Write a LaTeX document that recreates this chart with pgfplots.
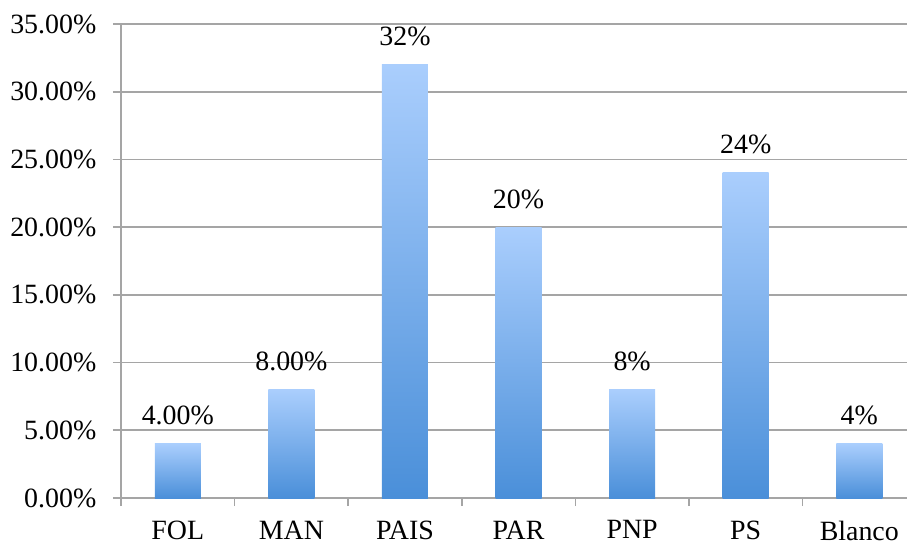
\documentclass[border=0pt]{standalone}
\usepackage{pgfplots}
\pgfplotsset{compat=1.18}
\usepackage{fontspec}
\setmainfont{Liberation Serif}
\definecolor{gridgray}{RGB}{165,165,165}
\definecolor{bartop}{RGB}{170,206,253}
\definecolor{barbot}{RGB}{74,143,217}
\pgfplotsset{mybar/.style={ybar, bar width=23bp, bar shift=0pt, draw=none, top color=bartop, bottom color=barbot}}
\begin{document}
\fontsize{14}{16}\selectfont
\begin{tikzpicture}
\useasboundingbox (-60.5bp,-23.5bp) rectangle (393bp,249bp);
\begin{axis}[
  at={(0,0)}, anchor=south west,
  scale only axis, width=393bp, height=237bp,
  xmin=-0.5, xmax=6.42, ymin=0, ymax=35,
  axis x line*=bottom, axis y line*=left,
  axis line style={-, draw=gridgray, line width=0.8bp},
  ytick={0,5,...,35},
  ymajorgrids, grid style={gridgray, line width=0.8bp},
  xtick={-0.5,0.5,...,5.5}, xticklabels={},
  extra x ticks={0,1,2,3,4,5,6},
  extra x tick labels={FOL,MAN,PAIS,PAR,PNP,PS,Blanco},
  extra x tick style={major tick length=0pt, grid=none, tick label style={yshift=-6.5bp}},
  tick align=outside, major tick length=4bp,
  tick style={gridgray, line width=0.8bp},
  /pgf/number format/assume math mode=true,
  yticklabel={\pgfmathprintnumber[fixed,zerofill,precision=2]{\tick}\%},
  yticklabel style={xshift=-3.5bp},
  tick label style={font=\fontsize{14}{16}\selectfont, text=black},
  nodes near coords,
  point meta=explicit symbolic,
  every node near coord/.append style={anchor=base, yshift=9.5bp, text=black, font=\fontsize{14}{16}\selectfont},
]
\addplot[mybar] coordinates {(0,4) [4.00\%]};
\addplot[mybar] coordinates {(1,8) [8.00\%]};
\addplot[mybar] coordinates {(2,32) [32\%]};
\addplot[mybar] coordinates {(3,20) [20\%]};
\addplot[mybar] coordinates {(4,8) [8\%]};
\addplot[mybar] coordinates {(5,24) [24\%]};
\addplot[mybar] coordinates {(6,4) [4\%]};
\end{axis}
\end{tikzpicture}
\end{document}
